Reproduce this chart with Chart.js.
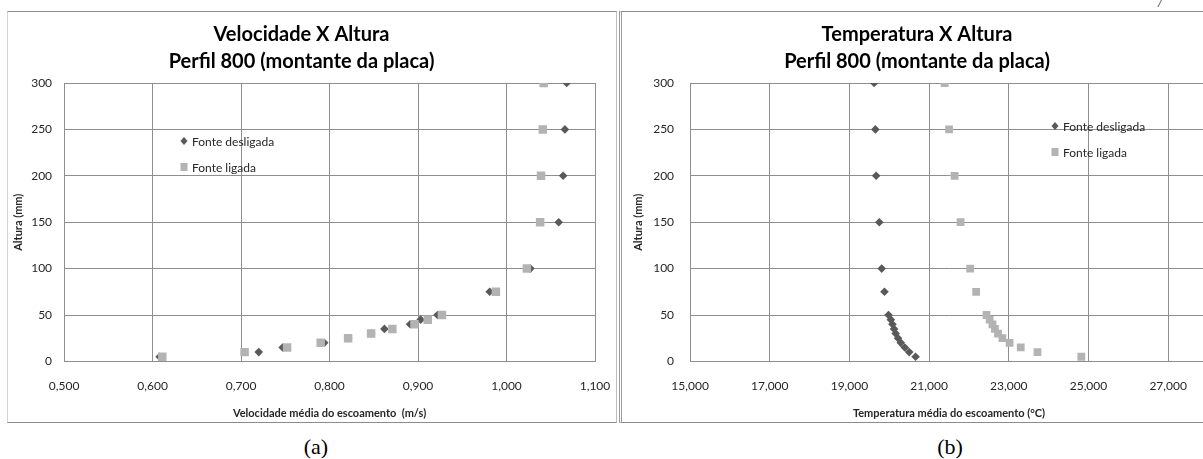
<!DOCTYPE html>
<html>
<head>
<meta charset="utf-8">
<script src="https://cdn.jsdelivr.net/npm/chart.js@4.4.1/dist/chart.umd.min.js"></script>
<style>
  html, body { margin: 0; padding: 0; width: 1203px; height: 459px; overflow: hidden; background: #fff; }
  .frame { position: absolute; top: 11px; height: 410px; border-top: 1px solid #8c8c8c; border-bottom: 1px solid #8c8c8c; }
  #frameA { left: 7px; width: 608px; border-left: 1px solid #d4d4d4; border-right: 1px solid #bdbdbd; }
  #frameB { left: 619px; width: 640px; border-left: 3px double #9a9a9a; }
  .box { position: absolute; top: 12px; height: 410px; }
  #boxA { left: 8px; width: 607px; }
  #boxB { left: 624px; width: 616px; }
  .cap { position: absolute; top: 434px; width: 80px; text-align: center; font: 22px "Liberation Serif", serif; line-height: 26px; color: #000; }
  #mark { position: absolute; left: 1158px; top: -4px; font: italic 12px "Liberation Serif", serif; color: #000; }
</style>
</head>
<body>
<div class="frame" id="frameA"></div>
<div class="frame" id="frameB"></div>
<div class="box" id="boxA"><canvas id="chartA"></canvas></div>
<div class="box" id="boxB"><canvas id="chartB"></canvas></div>
<div class="cap" style="left:276px">(a)</div>
<div class="cap" style="left:910px">(b)</div>
<div id="mark">/</div>
<script>
// alturas (mm) - same for every series
const alturas = [5, 10, 15, 20, 25, 30, 35, 40, 45, 50, 75, 100, 150, 200, 250, 300]

// velocidade media (m/s)
const velDesligada = [0.608, 0.720, 0.747, 0.794, 0.821, 0.847, 0.862, 0.891, 0.903, 0.922, 0.981, 1.027, 1.059, 1.064, 1.066, 1.068]
const velLigada = [0.611, 0.704, 0.752, 0.790, 0.821, 0.847, 0.871, 0.896, 0.911, 0.927, 0.988, 1.023, 1.038, 1.039, 1.041, 1.042]

// temperatura media (C)
const tempDesligada = [20.66, 20.50, 20.39, 20.29, 20.22, 20.16, 20.12, 20.08, 20.04, 19.98, 19.88, 19.81, 19.75, 19.67, 19.65, 19.62]
const tempLigada = [24.82, 23.72, 23.30, 23.02, 22.84, 22.73, 22.65, 22.59, 22.52, 22.44, 22.18, 22.03, 21.79, 21.64, 21.50, 21.39]

// tick labels
const velTicks = [0.5, 0.6, 0.7, 0.8, 0.9, 1.0, 1.1]
const tempTicks = [15, 17, 19, 21, 23, 25, 27]
const alturaTicks = [0, 50, 100, 150, 200, 250, 300]

const seriesNames = ['Fonte desligada', 'Fonte ligada']

const darkGray = '#595959'
const lightGray = '#b3b3b3'
const gridColor = '#8e8e8e'
const textColor = '#262626'

const toPoints = (xs) => alturas.map((h, i) => ({ x: xs[i], y: h }))
const fmt3 = (v) => Number(v).toFixed(3).replace('.', ',')

// legend drawn inside the plot, like the excel one
const insideLegend = {
  id: 'insideLegend',
  afterDraw(chart, args, opts) {
    const ctx = chart.ctx
    ctx.save()
    ctx.font = '12px Lato'
    ctx.textBaseline = 'middle'
    chart.data.datasets.forEach((ds, i) => {
      const x = opts.x
      const y = opts.y + i * opts.gap
      ctx.fillStyle = ds.backgroundColor
      if (ds.pointStyle === 'rectRot') {
        ctx.beginPath()
        ctx.moveTo(x, y - 4)
        ctx.lineTo(x + 3.5, y)
        ctx.lineTo(x, y + 4)
        ctx.lineTo(x - 3.5, y)
        ctx.closePath()
        ctx.fill()
      } else {
        ctx.fillRect(x - 3.5, y - 4, 7, 8)
      }
      ctx.fillStyle = textColor
      ctx.fillText(ds.label, x + 8, y + 1)
    })
    ctx.restore()
  }
}

function makeChart(id, cfg) {
  return new Chart(document.getElementById(id), {
    type: 'scatter',
    data: {
      datasets: [
        {
          label: seriesNames[0],
          data: toPoints(cfg.desligada),
          pointStyle: 'rectRot',
          pointRadius: 4.3,
          backgroundColor: darkGray,
          borderWidth: 0,
          order: 1
        },
        {
          label: seriesNames[1],
          data: toPoints(cfg.ligada),
          pointStyle: 'rect',
          pointRadius: cfg.squareRadius,
          backgroundColor: lightGray,
          borderWidth: 0,
          order: 0
        }
      ]
    },
    options: {
      responsive: true,
      maintainAspectRatio: false,
      animation: false,
      events: [],
      layout: { padding: cfg.padding },
      plugins: {
        legend: { display: false },
        tooltip: { enabled: false },
        title: {
          display: true,
          text: cfg.title,
          color: '#000',
          font: { family: 'Lato', size: 20, weight: 'bold', lineHeight: 1.35 },
          padding: { top: 9, bottom: 8 }
        },
        insideLegend: cfg.legend
      },
      scales: {
        x: {
          type: 'linear',
          min: cfg.xMin,
          max: cfg.xMax,
          afterBuildTicks: (scale) => { scale.ticks = cfg.xTicks.map(v => ({ value: v })) },
          // invisible tick marks give the gap below the axis
          grid: { color: gridColor, drawTicks: true, tickLength: 18, tickColor: 'rgba(0,0,0,0)' },
          border: { color: gridColor },
          ticks: { padding: 0, color: textColor, font: { family: 'Lato', size: 12 }, callback: fmt3 },
          title: {
            display: true,
            text: cfg.xTitle,
            color: textColor,
            font: { family: 'Lato', size: 11, weight: 'bold' },
            padding: { top: 13, bottom: 2 }
          }
        },
        y: {
          type: 'linear',
          min: 0,
          max: 300,
          afterBuildTicks: (scale) => { scale.ticks = alturaTicks.map(v => ({ value: v })) },
          grid: { color: gridColor, drawTicks: false },
          border: { color: gridColor },
          ticks: { padding: cfg.yPad, color: textColor, font: { family: 'Lato', size: 12 } },
          title: {
            display: true,
            text: 'Altura (mm)',
            color: textColor,
            font: { family: 'Lato', size: 11, weight: 'bold' },
            padding: cfg.yTitlePad
          }
        }
      }
    },
    plugins: [insideLegend]
  })
}

makeChart('chartA', {
  title: ['Velocidade X Altura', 'Perfil 800 (montante da placa)'],
  desligada: velDesligada,
  ligada: velLigada,
  squareRadius: 6,
  xMin: 0.5,
  xMax: 1.1,
  xTicks: velTicks,
  xTitle: 'Velocidade média do escoamento  (m/s)',
  padding: { left: 0, right: 20, top: 0, bottom: 0 },
  yPad: 12,
  yTitlePad: { top: 4, bottom: -6 },
  legend: { x: 176, y: 129, gap: 26 }
})

makeChart('chartB', {
  title: ['Temperatura X Altura', 'Perfil 800 (montante da placa)'],
  desligada: tempDesligada,
  ligada: tempLigada,
  squareRadius: 5.5,
  xMin: 15,
  xMax: 28,
  xTicks: tempTicks,
  xTitle: 'Temperatura média do escoamento (°C)',
  padding: { left: 2, right: 32, top: 0, bottom: 0 },
  yPad: 16,
  yTitlePad: { top: 6, bottom: -8 },
  legend: { x: 431, y: 114, gap: 26 }
})
</script>
</body>
</html>
